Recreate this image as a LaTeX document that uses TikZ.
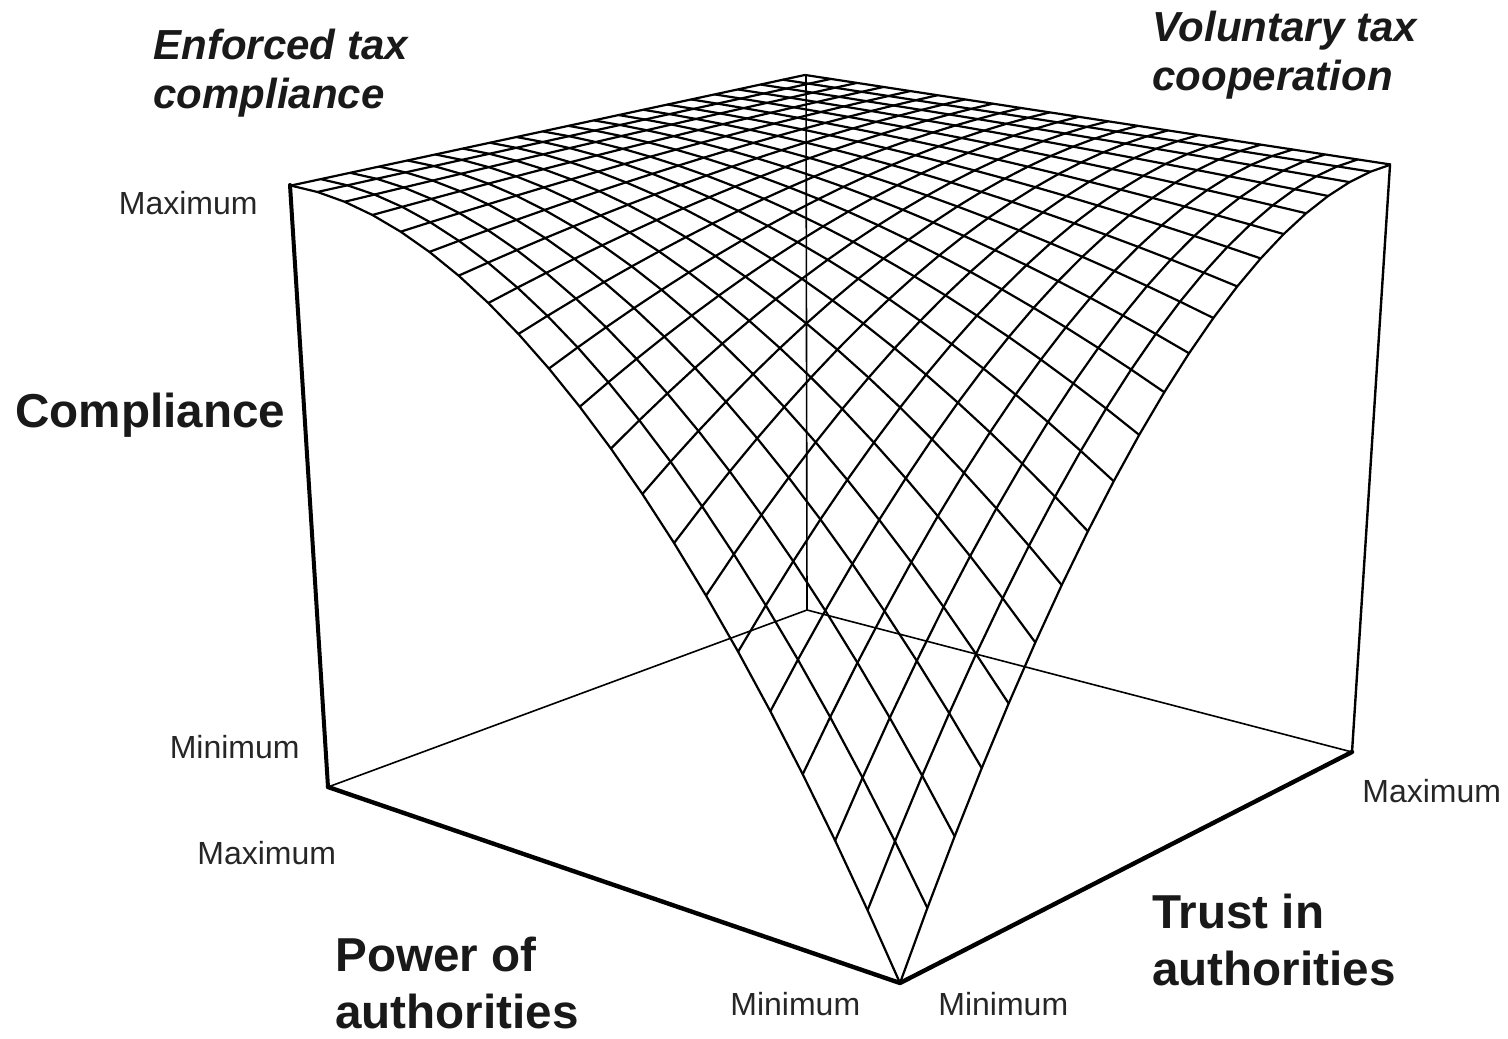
\documentclass[tikz,border=0pt]{standalone}
\usepackage{fontspec}
\setmainfont{Liberation Sans}
\tikzset{
  declare function={
    fz(\p,\t)=1-(1-\p)*(1-\p)*(1-\t)*(1-\t);
    wq(\p,\t)=1+0.1556*\p+0.186*\t-0.081*fz(\p,\t);
    sx(\p,\t)=(900-521*\p+703.5*\t-66.5*fz(\p,\t)-1.2*\p*\t*fz(\p,\t))/wq(\p,\t);
    sy(\p,\t)=(983-73.5*\p-91.1*\t-710.1*fz(\p,\t)-13.8*\p*\t*fz(\p,\t))/wq(\p,\t);
  },
  mesh/.style={line width=1.1pt, line join=round, black},
  frontedge/.style={line width=2.2pt, line join=round, line cap=round},
  leftedge/.style={line width=2pt, line cap=round},
  rightedge/.style={line width=1.2pt, line cap=round},
  backedge/.style={line width=0.8pt, line join=round},
  smalllab/.style={inner sep=0pt, text=black!85, font=\fontsize{16}{19}\selectfont},
  biglab/.style={inner sep=0pt, text=black!90, font=\fontsize{23.8}{28.5}\selectfont\bfseries, align=left},
  toplab/.style={inner sep=0pt, text=black!90, font=\fontsize{21}{24.6}\selectfont\bfseries\itshape, align=left}
}
\begin{document}
\begin{tikzpicture}[x=0.5pt, y=-0.5pt]
\useasboundingbox (0,0) rectangle (1508,1038);
% cube corners
\coordinate (F00) at (900,983);
\coordinate (F10) at (328,787);
\coordinate (F01) at (1352,752);
\coordinate (F11) at (807,610);
\coordinate (T10) at (290,185);
\coordinate (T01) at (1390,165);
\coordinate (T11) at (806,75);
% back box lines
\draw[backedge] (F10) -- (F11) -- (F01);
\draw[backedge] (F11) -- (T11);
% surface mesh
\foreach \i in {0,...,20}{
  \draw[mesh] plot[domain=0:1, samples=21, variable=\q] ({sx(\i/20,\q)},{sy(\i/20,\q)});
  \draw[mesh] plot[domain=0:1, samples=21, variable=\q] ({sx(\q,\i/20)},{sy(\q,\i/20)});
}
% front box lines
\draw[leftedge] (T10) -- (F10);
\draw[rightedge] (T01) -- (F01);
\draw[frontedge] (F10) -- (F00) -- (F01);
% labels
\node[toplab, anchor=west] (enf) at (153,73) {Enforced tax\\compliance};
\node[toplab, anchor=west] (vol) at (1152,55) {Voluntary tax\\cooperation};
\node[biglab, anchor=base west] (comp) at (15,427) {Compliance};
\node[biglab, anchor=west] (pow) at (335,983) {Power of\\authorities};
\node[biglab, anchor=west] (tru) at (1152,940) {Trust in\\authorities};
\node[smalllab, anchor=base east] (zmax) at (258,214.5) {Maximum};
\node[smalllab, anchor=base east] (zmin) at (300,758.5) {Minimum};
\node[smalllab, anchor=base west] (pmax) at (197,864.5) {Maximum};
\node[smalllab, anchor=base west] (pmin) at (730,1015.5) {Minimum};
\node[smalllab, anchor=base west] (tmin) at (938,1015.5) {Minimum};
\node[smalllab, anchor=base west] (tmax) at (1362,802.5) {Maximum};
\end{tikzpicture}
\end{document}
